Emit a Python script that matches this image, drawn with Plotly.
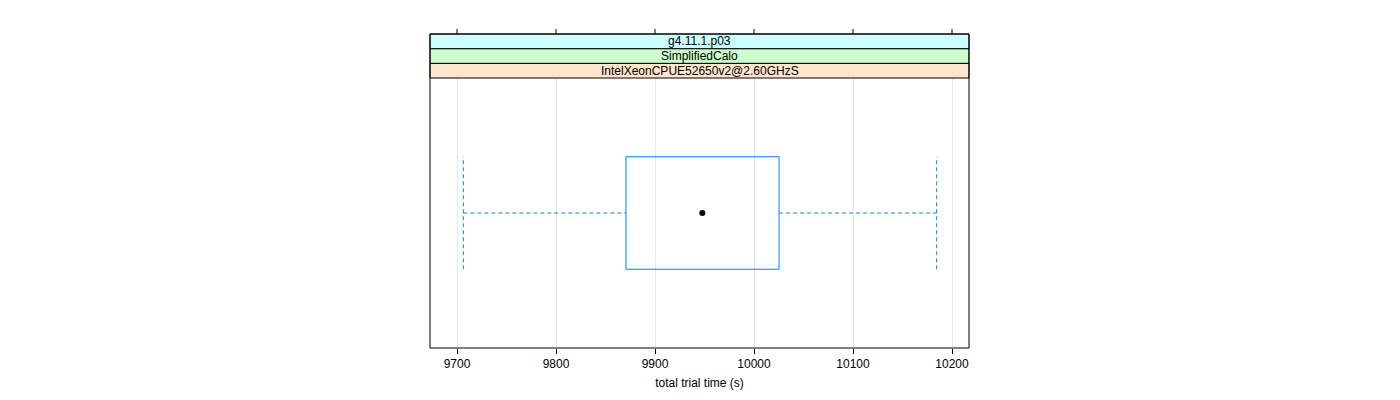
import plotly.graph_objects as go

# data
strip_labels = ["g4.11.1.p03", "SimplifiedCalo", "IntelXeonCPUE52650v2@2.60GHzS"]
strip_colors = ["#ccffff", "#ccffcc", "#ffe5cc"]
whisker_low = 9706.4
q1 = 9870.7
median = 9947.8
q3 = 10025.3
whisker_high = 10184.5
tick_vals = [9700, 9800, 9900, 10000, 10100, 10200]
tick_text = ["9700", "9800", "9900", "10000", "10100", "10200"]
x_title = "total trial time (s)"

FONT = "Liberation Sans, Arial, Helvetica, sans-serif"
BOX_COL = "#0080ff"

W, H = 1400, 400
M_L, M_R, M_T, M_B = 430, 431, 34, 52
paper_h = H - M_T - M_B            # 314
plot_h = 270
dom_top = plot_h / paper_h
strip_h = (paper_h - plot_h) / 3.0

center = 1.0
half = 0.25

fig = go.Figure()

# box rectangle
fig.add_trace(go.Scatter(
    x=[q1, q3, q3, q1, q1],
    y=[center - half, center - half, center + half, center + half, center - half],
    mode="lines", line=dict(color=BOX_COL, width=1), hoverinfo="skip", showlegend=False))
# whiskers
for a, b in [(whisker_low, q1), (q3, whisker_high)]:
    fig.add_trace(go.Scatter(x=[a, b], y=[center, center], mode="lines",
                             line=dict(color=BOX_COL, width=1, dash="4px,3px"),
                             hoverinfo="skip", showlegend=False))
for v in [whisker_low, whisker_high]:
    fig.add_trace(go.Scatter(x=[v, v], y=[center - half, center + half], mode="lines",
                             line=dict(color=BOX_COL, width=1, dash="4px,3px"),
                             hoverinfo="skip", showlegend=False))
# median dot
fig.add_trace(go.Scatter(x=[median], y=[center], mode="markers",
                         marker=dict(color="black", size=6), hoverinfo="skip", showlegend=False))

shapes = []
for i, col in enumerate(reversed(strip_colors)):
    y0 = dom_top + i * strip_h / paper_h
    y1 = dom_top + (i + 1) * strip_h / paper_h
    shapes.append(dict(type="rect", xref="paper", yref="paper", x0=0, x1=1, y0=y0, y1=y1,
                       fillcolor=col, line=dict(color="black", width=1), layer="above"))
for i, lab in enumerate(reversed(strip_labels)):
    ymid = dom_top + (i + 0.5) * strip_h / paper_h
    fig.add_annotation(x=0.5, y=ymid, xref="paper", yref="paper", text=lab, showarrow=False,
                       font=dict(family=FONT, size=12, color="black"), xanchor="center", yanchor="middle")
# panel border
shapes.append(dict(type="rect", xref="paper", yref="paper", x0=0, x1=1, y0=0, y1=1,
                   line=dict(color="black", width=1), fillcolor="rgba(0,0,0,0)", layer="above"))
# top ticks
for t in tick_vals:
    shapes.append(dict(type="line", xref="x", yref="paper", x0=t, x1=t, y0=1, y1=1 + 5 / paper_h,
                       line=dict(color="black", width=1)))

x_left = 9700 - 27 / 0.99
x_right = 9700 + 512 / 0.99

fig.update_layout(
    width=W, height=H,
    margin=dict(l=M_L, r=M_R, t=M_T, b=M_B, pad=0),
    paper_bgcolor="white", plot_bgcolor="white",
    shapes=shapes,
    font=dict(family=FONT, size=12, color="black"),
    xaxis=dict(range=[x_left, x_right], tickvals=tick_vals, ticktext=tick_text,
               ticks="outside", ticklen=5, tickcolor="black", tickwidth=1,
               showgrid=True, gridcolor="#e6e6e6", gridwidth=1, zeroline=False,
               showline=False, tickfont=dict(family=FONT, size=12, color="black"),
               title=dict(text=x_title, font=dict(family=FONT, size=12, color="black"), standoff=8)),
    yaxis=dict(domain=[0, dom_top], range=[0.4, 1.6], showticklabels=False, showgrid=False,
               zeroline=False, ticks=""),
)

fig.write_html("out.html", config={"displayModeBar": False})
